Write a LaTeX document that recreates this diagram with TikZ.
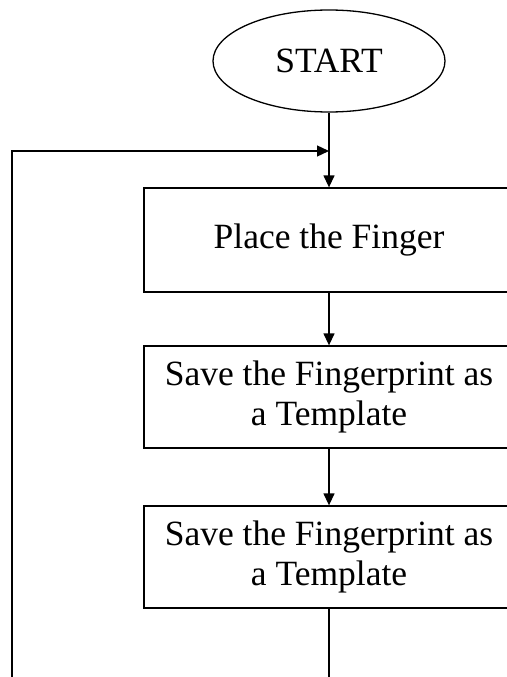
\documentclass[tikz,border=0pt]{standalone}
\usepackage{fontspec}
\setmainfont{Liberation Serif}
\usetikzlibrary{shapes.geometric,arrows.meta}
\begin{document}
\begin{tikzpicture}[x=1pt,y=-1pt,
  line width=1.3pt,
  every node/.append style={font=\fontsize{35.5}{40}\selectfont},
  procbox/.style={draw, rectangle, minimum width=370pt, inner sep=0pt, align=center},
  termnode/.style={draw, ellipse, minimum width=232pt, minimum height=102pt, inner sep=0pt},
  flow/.style={-{Triangle[length=12pt,width=11pt]}}]
\useasboundingbox (0,0) rectangle (506,677);
\node[termnode] (start) at (329,61) {START};
\node[procbox, minimum height=104pt] (place) at (329,240) {Place the Finger};
\node[procbox, minimum height=102pt] (save1) at (329,397) {Save the Fingerprint as\\a Template};
\node[procbox, minimum height=102pt] (save2) at (329,557) {Save the Fingerprint as\\a Template};
\coordinate (join) at (329,151);
\coordinate (down) at (329,690);
\coordinate (loopbot) at (12,690);
\draw[flow] (start) -- (place);
\draw[flow] (place) -- (save1);
\draw[flow] (save1) -- (save2);
\draw (save2) -- (down);
\draw[flow] (loopbot) |- (join);
\end{tikzpicture}
\end{document}
